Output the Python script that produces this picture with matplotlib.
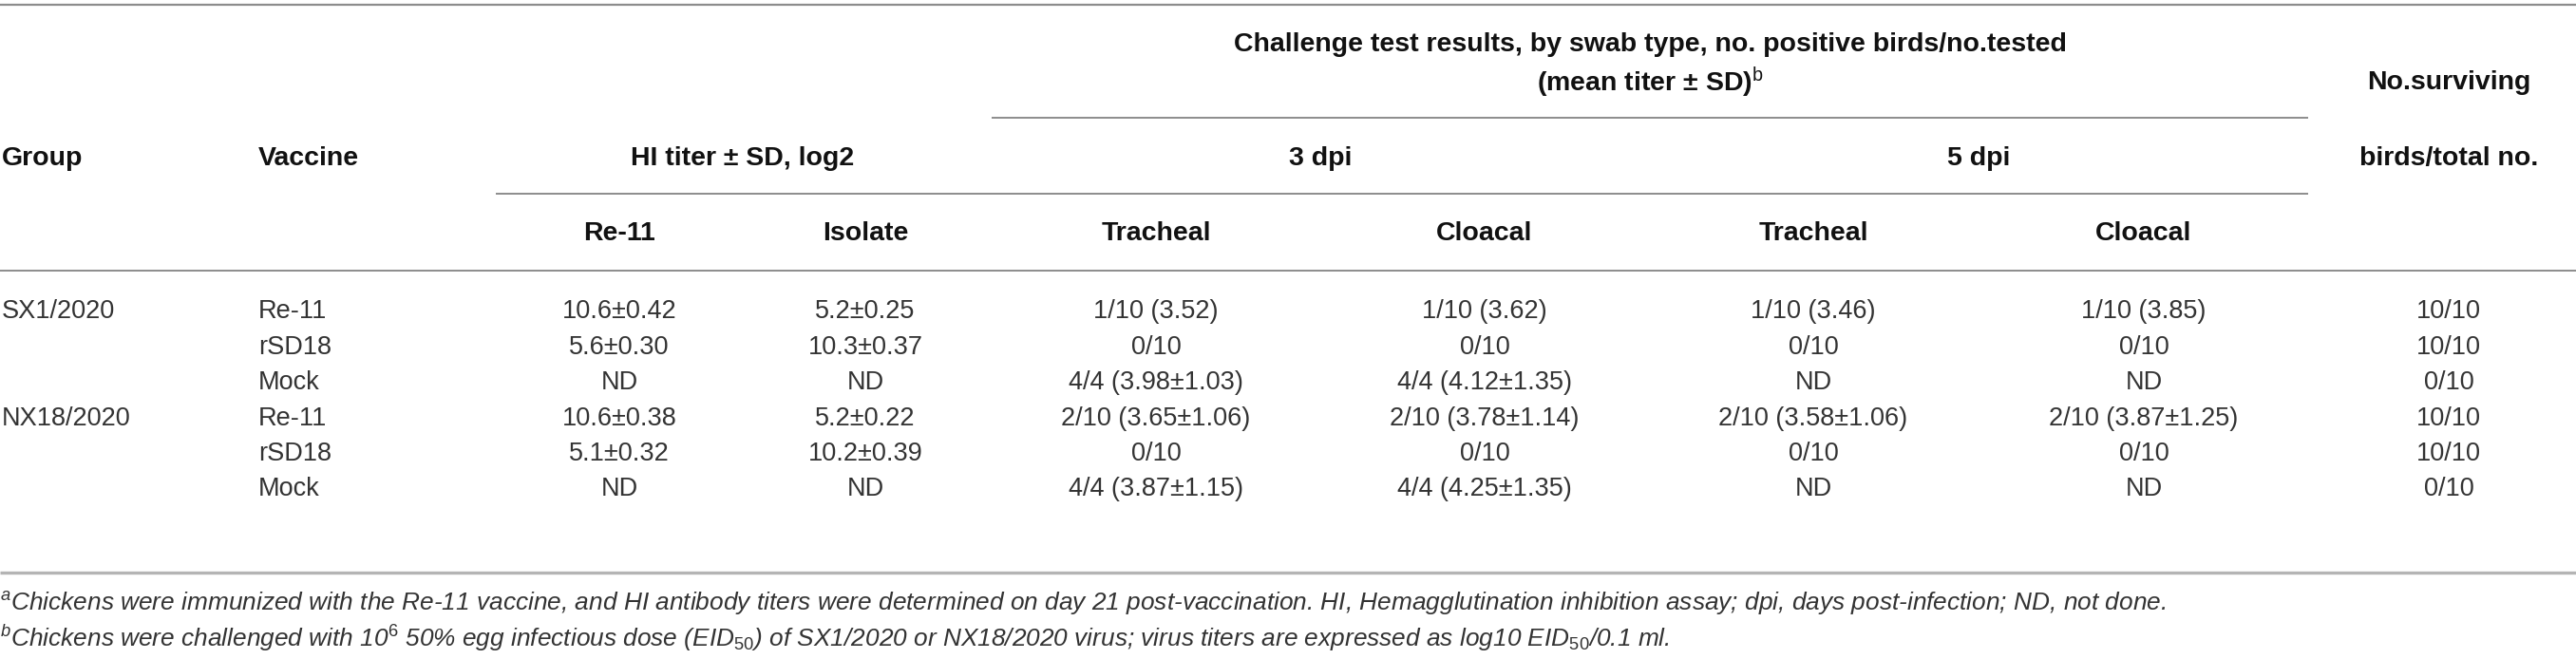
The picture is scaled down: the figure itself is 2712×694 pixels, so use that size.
import matplotlib
matplotlib.use("Agg")
import matplotlib.pyplot as plt

# ---------------- data ----------------
groups = ["SX1/2020", "", "", "NX18/2020", "", ""]
vaccines = ["Re-11", "rSD18", "Mock", "Re-11", "rSD18", "Mock"]
hi_re11 = ["10.6±0.42", "5.6±0.30", "ND", "10.6±0.38", "5.1±0.32", "ND"]
hi_isolate = ["5.2±0.25", "10.3±0.37", "ND", "5.2±0.22", "10.2±0.39", "ND"]
dpi3_tracheal = ["1/10 (3.52)", "0/10", "4/4 (3.98±1.03)", "2/10 (3.65±1.06)", "0/10", "4/4 (3.87±1.15)"]
dpi3_cloacal = ["1/10 (3.62)", "0/10", "4/4 (4.12±1.35)", "2/10 (3.78±1.14)", "0/10", "4/4 (4.25±1.35)"]
dpi5_tracheal = ["1/10 (3.46)", "0/10", "ND", "2/10 (3.58±1.06)", "0/10", "ND"]
dpi5_cloacal = ["1/10 (3.85)", "0/10", "ND", "2/10 (3.87±1.25)", "0/10", "ND"]
surviving = ["10/10", "10/10", "0/10", "10/10", "10/10", "0/10"]

sub_headers = ["Re-11", "Isolate", "Tracheal", "Cloacal", "Tracheal", "Cloacal"]
footnotes = [
    r"$^{\mathit{a}}$Chickens were immunized with the Re-11 vaccine, and HI antibody titers were determined on day 21 post-vaccination. HI, Hemagglutination inhibition assay; dpi, days post-infection; ND, not done.",
    r"$^{\mathit{b}}$Chickens were challenged with 10$^{\mathit{6}}$ 50% egg infectious dose (EID$_{\mathit{50}}$) of SX1/2020 or NX18/2020 virus; virus titers are expressed as log10 EID$_{\mathit{50}}$/0.1 ml.",
]

# ---------------- style ----------------
FAM = ["Liberation Sans", "DejaVu Sans"]
plt.rcParams["font.family"] = FAM
plt.rcParams["mathtext.fontset"] = "custom"
plt.rcParams["mathtext.rm"] = "Liberation Sans"
plt.rcParams["mathtext.it"] = "Liberation Sans:italic"
plt.rcParams["mathtext.bf"] = "Liberation Sans:bold"

W, H = 2712, 694
fig = plt.figure(figsize=(W / 100, H / 100), dpi=100)
ax = fig.add_axes([0, 0, 1, 1])
ax.set_xlim(0, W)
ax.set_ylim(H, 0)
ax.axis("off")

HFS = 20.5
DFS = 19.5
HC = "#111111"
DC = "#333333"
LC = "#8c8c8c"

# rules
ax.hlines(4.5, 0, W, color=LC, lw=1.6)
ax.hlines(124, 1044, 2430, color=LC, lw=1.4)
ax.hlines(204, 522, 2430, color=LC, lw=1.4)
ax.hlines(285, 0, W, color=LC, lw=1.4)
ax.hlines(603, 0, W, color="#b4b4b4", lw=2.4)

# header
hb = dict(fontsize=HFS, fontweight="bold", color=HC, va="center")
ax.text(2, 167, "Group", ha="left", **hb)
ax.text(272, 167, "Vaccine", ha="left", **hb)
ax.text(782, 167, "HI titer ± SD, log2", ha="center", **hb)
ax.text(1737, 47, "Challenge test results, by swab type, no. positive birds/no.tested", ha="center", **hb)
ax.text(1737, 87, r"(mean titer ± SD)$^{\mathrm{b}}$", ha="center", **hb)
ax.text(1390, 167, "3 dpi", ha="center", **hb)
ax.text(2083, 167, "5 dpi", ha="center", **hb)
ax.text(2578, 87, "No.surviving", ha="center", **hb)
ax.text(2578, 167, "birds/total no.", ha="center", **hb)

col_x = [652, 911, 1217, 1563, 1909, 2257]
for x, s in zip(col_x, sub_headers):
    ax.text(x, 246, s, ha="center", **hb)

# body
row_y0, row_dy = 328, 37.5
db = dict(fontsize=DFS, color=DC, va="center")
cols = [hi_re11, hi_isolate, dpi3_tracheal, dpi3_cloacal, dpi5_tracheal, dpi5_cloacal]
for i in range(len(vaccines)):
    y = row_y0 + i * row_dy
    if groups[i]:
        ax.text(2, y, groups[i], ha="left", **db)
    ax.text(272, y, vaccines[i], ha="left", **db)
    for x, col in zip(col_x, cols):
        ax.text(x, y, col[i], ha="center", **db)
    ax.text(2578, y, surviving[i], ha="center", **db)

# footnotes
fn_y = [636, 672]
t1 = ax.text(0, fn_y[0], footnotes[0], ha="left", va="center", fontsize=17, style="italic", color=DC)
t2 = ax.text(0, fn_y[1], footnotes[1], ha="left", va="center", fontsize=17, style="italic", color=DC)
fig.canvas.draw()
r = fig.canvas.get_renderer()
w1 = t1.get_window_extent(r).width
scale = 2285.0 / w1
t1.set_fontsize(17 * scale)
t2.set_fontsize(17 * scale)

fig.savefig("out.png", dpi=100)
